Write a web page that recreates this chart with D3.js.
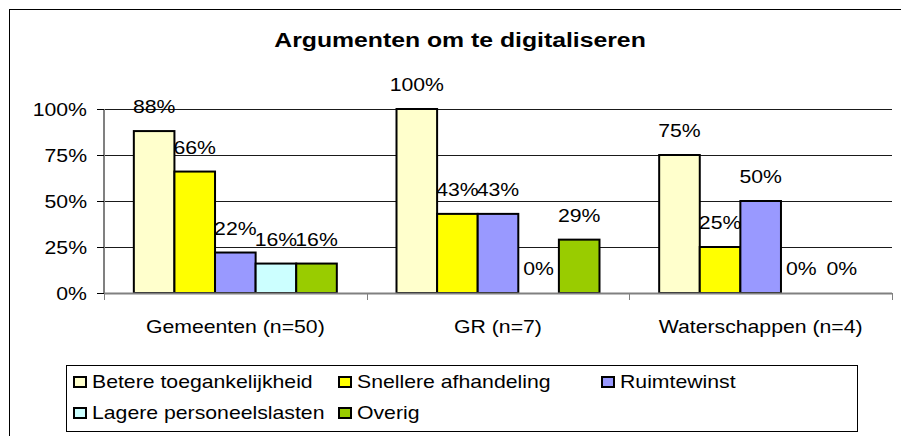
<!DOCTYPE html>
<html>
<head>
<meta charset="utf-8">
<script src="https://cdn.jsdelivr.net/npm/d3@7"></script>
<style>
  html, body { margin: 0; padding: 0; background: #fff; }
  svg { display: block; }
  text { font-family: "Liberation Sans", Arial, sans-serif; fill: #000; }
</style>
</head>
<body>
<svg id="chart" width="901" height="436"></svg>
<script>
const title = "Argumenten om te digitaliseren";
const categories = ["Gemeenten (n=50)", "GR (n=7)", "Waterschappen (n=4)"];
const seriesNames = ["Betere toegankelijkheid", "Snellere afhandeling", "Ruimtewinst", "Lagere personeelslasten", "Overig"];
const seriesColors = ["#FFFFCC", "#FFFF00", "#9999FF", "#CCFFFF", "#99CC00"];
const betere = [0.88, 1.00, 0.75];
const snellere = [0.66, 0.43, 0.25];
const ruimtewinst = [0.22, 0.43, 0.50];
const lagere = [0.16, 0.00, 0.00];
const overig = [0.16, 0.29, 0.00];
const seriesValues = [betere, snellere, ruimtewinst, lagere, overig];
const yTicks = [0, 0.25, 0.5, 0.75, 1.0];

const svg = d3.select("#chart");
const SX = 1.18; // horizontal stretch of the original text rendering

function stretchedText(sel, x, y, str, size, anchor, weight) {
  return sel.append("text")
    .attr("transform", `translate(${x},${y}) scale(${SX},1)`)
    .attr("text-anchor", anchor || "start")
    .style("font-size", size + "px")
    .style("font-weight", weight || "normal")
    .text(str);
}

// outer chart border
svg.append("rect").attr("x", 9.5).attr("y", 9.5).attr("width", 900).attr("height", 440)
  .attr("fill", "none").attr("stroke", "#000").attr("stroke-width", 1);

// title
stretchedText(svg, 460, 47, title, 21, "middle", "bold");

const pLeft = 104, pRight = 892, pTop = 109, pBottom = 293;
const y = d3.scaleLinear().domain([0, 1]).range([pBottom, pTop]);
const x0 = d3.scaleBand().domain(categories).range([pLeft, pRight]).paddingInner(0).paddingOuter(0);
const x1 = d3.scaleBand().domain(seriesNames).range([0, x0.bandwidth()]).paddingInner(0).paddingOuter(0.735);

// gridlines
svg.append("g").selectAll("line").data(yTicks.filter(d => d > 0)).join("line")
  .attr("x1", pLeft).attr("x2", pRight)
  .attr("y1", d => Math.round(y(d)) + 0.5).attr("y2", d => Math.round(y(d)) + 0.5)
  .attr("stroke", "#1a1a1a").attr("stroke-width", 1);

// y axis
const yAxis = svg.append("g");
yAxis.append("line").attr("x1", pLeft).attr("x2", pLeft).attr("y1", pTop).attr("y2", pBottom)
  .attr("stroke", "#808080").attr("stroke-width", 2);
yAxis.selectAll("line.tick").data(yTicks).join("line").attr("class", "tick")
  .attr("x1", pLeft - 7).attr("x2", pLeft)
  .attr("y1", d => Math.round(y(d)) + 0.5).attr("y2", d => Math.round(y(d)) + 0.5)
  .attr("stroke", "#000").attr("stroke-width", 1);
yTicks.forEach(t => {
  stretchedText(yAxis, 87, y(t) + 7, d3.format(".0%")(t), 18, "end");
});

// bars
const groups = svg.append("g").selectAll("g").data(categories).join("g")
  .attr("transform", d => `translate(${x0(d)},0)`);
groups.each(function(cat, ci) {
  const g = d3.select(this);
  seriesNames.forEach((s, si) => {
    const v = seriesValues[si][ci];
    if (v > 0) {
      g.append("rect")
        .attr("x", x1(s)).attr("y", y(v))
        .attr("width", x1.bandwidth()).attr("height", y(0) - y(v))
        .attr("fill", seriesColors[si]).attr("stroke", "#000").attr("stroke-width", 2);
    }
  });
  seriesNames.forEach((s, si) => {
    const v = seriesValues[si][ci];
    stretchedText(g, x1(s) + x1.bandwidth() / 2, y(v) - 18, d3.format(".0%")(v), 18, "middle");
  });
});

// x axis
const xAxis = svg.append("g");
xAxis.append("line").attr("x1", pLeft).attr("x2", pRight).attr("y1", pBottom + 0.5).attr("y2", pBottom + 0.5)
  .attr("stroke", "#808080").attr("stroke-width", 2);
const bounds = categories.map(c => x0(c)).concat([pRight]);
xAxis.selectAll("line.tick").data(bounds).join("line").attr("class", "tick")
  .attr("x1", d => Math.round(d) + 0.5).attr("x2", d => Math.round(d) + 0.5)
  .attr("y1", pBottom).attr("y2", pBottom + 7)
  .attr("stroke", "#808080").attr("stroke-width", 1);
categories.forEach(c => {
  stretchedText(xAxis, x0(c) + x0.bandwidth() / 2, 333, c, 18, "middle");
});

// legend
const legend = svg.append("g");
legend.append("rect").attr("x", 66.5).attr("y", 365.5).attr("width", 791).attr("height", 66)
  .attr("fill", "#fff").attr("stroke", "#000").attr("stroke-width", 1);
const legCols = [73, 338, 601];
const legRows = [388, 419];
seriesNames.forEach((s, i) => {
  const cx = legCols[i % 3], ry = legRows[Math.floor(i / 3)];
  legend.append("rect").attr("x", cx + 1).attr("y", ry - 11).attr("width", 12).attr("height", 10)
    .attr("fill", seriesColors[i]).attr("stroke", "#000").attr("stroke-width", 2);
  stretchedText(legend, cx + 19, ry, s, 18, "start");
});
</script>
</body>
</html>
